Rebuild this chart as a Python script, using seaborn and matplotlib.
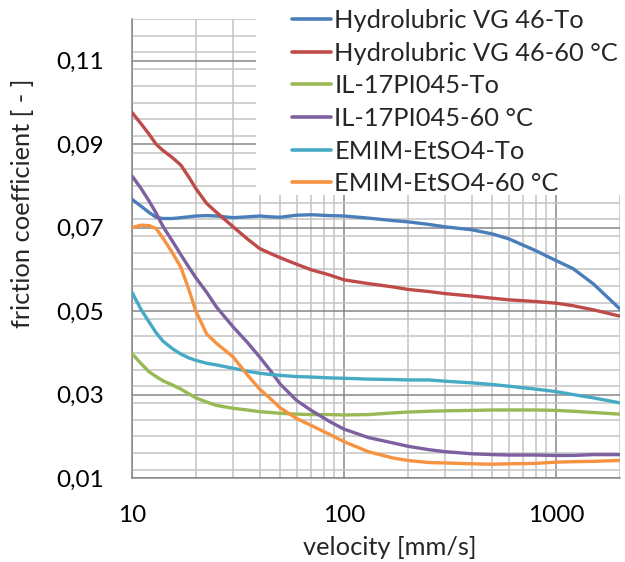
import numpy as np
import pandas as pd
import matplotlib
matplotlib.use("Agg")
import matplotlib.pyplot as plt
import matplotlib.ticker as mticker
from matplotlib.patches import Rectangle
import seaborn as sns

velocity = [10, 11, 12, 13, 14, 15.5, 17, 18.5, 20, 22.5, 25, 30, 35, 40, 45, 50, 60,
            70, 85, 100, 130, 170, 200, 250, 300, 400, 500, 600, 800, 1000, 1200,
            1500, 2000]

hydro_to = [0.0768, 0.0752, 0.0737, 0.0725, 0.0722, 0.0722, 0.0724, 0.0726, 0.0728,
            0.0729, 0.0728, 0.0724, 0.0726, 0.0728, 0.0726, 0.0725, 0.0730, 0.0731,
            0.0729, 0.0728, 0.0723, 0.0717, 0.0714, 0.0708, 0.0702, 0.0695, 0.0685,
            0.0673, 0.0645, 0.0621, 0.0602, 0.0565, 0.0505]
hydro_60 = [0.0976, 0.0950, 0.0925, 0.0900, 0.0885, 0.0868, 0.0850, 0.0822, 0.0794,
            0.0758, 0.0737, 0.0702, 0.0673, 0.0650, 0.0638, 0.0628, 0.0612, 0.0599,
            0.0587, 0.0575, 0.0566, 0.0558, 0.0552, 0.0547, 0.0542, 0.0536, 0.0531,
            0.0527, 0.0523, 0.0519, 0.0513, 0.0503, 0.0488]
il_to = [0.0398, 0.0375, 0.0355, 0.0343, 0.0333, 0.0323, 0.0313, 0.0302, 0.0292,
         0.0282, 0.0274, 0.0267, 0.0263, 0.0259, 0.0257, 0.0255, 0.0253, 0.0252,
         0.0252, 0.0251, 0.0252, 0.0256, 0.0258, 0.0260, 0.0261, 0.0262, 0.0263,
         0.0263, 0.0263, 0.0262, 0.0260, 0.0257, 0.0253]
il_60 = [0.0824, 0.0795, 0.0765, 0.0735, 0.0703, 0.0668, 0.0635, 0.0606, 0.0580,
         0.0545, 0.0510, 0.0462, 0.0425, 0.0390, 0.0357, 0.0325, 0.0285, 0.0262,
         0.0236, 0.0217, 0.0197, 0.0184, 0.0176, 0.0168, 0.0163, 0.0158, 0.0156,
         0.0155, 0.0155, 0.0154, 0.0154, 0.0156, 0.0156]
emim_to = [0.0545, 0.0505, 0.0475, 0.0448, 0.0428, 0.0410, 0.0397, 0.0388, 0.0382,
           0.0375, 0.0371, 0.0363, 0.0356, 0.0351, 0.0348, 0.0346, 0.0343, 0.0342,
           0.0340, 0.0339, 0.0337, 0.0336, 0.0335, 0.0335, 0.0332, 0.0328, 0.0324,
           0.0320, 0.0313, 0.0307, 0.0300, 0.0292, 0.0280]
emim_60 = [0.0700, 0.0706, 0.0705, 0.0698, 0.0675, 0.0640, 0.0605, 0.0553, 0.0500,
           0.0445, 0.0423, 0.0390, 0.0347, 0.0313, 0.0290, 0.0268, 0.0242, 0.0226,
           0.0205, 0.0187, 0.0163, 0.0148, 0.0142, 0.0137, 0.0136, 0.0134, 0.0133,
           0.0134, 0.0135, 0.0138, 0.0139, 0.0140, 0.0142]

series_names = ["Hydrolubric VG 46-To", "Hydrolubric VG 46-60 °C", "IL-17PI045-To",
                "IL-17PI045-60 °C", "EMIM-EtSO4-To", "EMIM-EtSO4-60 °C"]
series_values = [hydro_to, hydro_60, il_to, il_60, emim_to, emim_60]
colors = ["#4A7EBB", "#BE4B48", "#98B954", "#7D60A0", "#46AAC5", "#F69240"]

y_ticks = [0.01, 0.03, 0.05, 0.07, 0.09, 0.11]
x_ticks = [10, 100, 1000]

rows = []
for name, vals in zip(series_names, series_values):
    for v, f in zip(velocity, vals):
        rows.append({"velocity": v, "friction": f, "series": name})
df = pd.DataFrame(rows)

sns.set_style("white")
plt.rcParams["font.family"] = ["Lato", "DejaVu Sans"]

fig = plt.figure(figsize=(6.25, 5.62), dpi=100)
ax = fig.add_axes([0.2112, 0.1495, 0.992 - 0.2112, 0.966 - 0.1495])

sns.lineplot(data=df, x="velocity", y="friction", hue="series",
             hue_order=series_names, palette=colors, linewidth=2.4,
             estimator=None, sort=True, ax=ax, zorder=5)

ax.set_xscale("log")
ax.set_xlim(10, 2000)
ax.set_ylim(0.01, 0.12)

ax.xaxis.set_major_locator(mticker.FixedLocator(x_ticks))
ax.xaxis.set_major_formatter(mticker.FuncFormatter(lambda v, p: f"{int(round(v))}"))
ax.xaxis.set_minor_locator(mticker.LogLocator(base=10, subs=np.arange(2, 10)))
ax.xaxis.set_minor_formatter(mticker.NullFormatter())

ax.yaxis.set_major_locator(mticker.FixedLocator(y_ticks))
ax.yaxis.set_major_formatter(mticker.FuncFormatter(lambda v, p: f"{v:.2f}".replace(".", ",")))
ax.yaxis.set_minor_locator(mticker.MultipleLocator(0.004))

ax.grid(which="major", color="#878787", linewidth=1.1, zorder=1)
ax.grid(which="minor", color="#C3C3C3", linewidth=1.1, zorder=1)
ax.set_axisbelow(True)

for s in ["top", "right"]:
    ax.spines[s].set_visible(False)
for s in ["left", "bottom"]:
    ax.spines[s].set_color("#878787")
    ax.spines[s].set_linewidth(1.1)

ax.tick_params(axis="both", which="major", direction="out", length=6.5, width=1.1,
               color="#878787", labelsize=17.5, labelcolor="black")
ax.tick_params(axis="y", which="major", pad=14)
ax.tick_params(axis="x", which="major", pad=13)
ax.tick_params(axis="both", which="minor", length=0)

ax.set_xlabel("velocity [mm/s]", fontsize=18.3)
ax.set_ylabel("friction coefficient [ - ]", fontsize=18.3)
ax.xaxis.set_label_coords((390 - 132) / 488, (478 - 536) / 459)
ax.yaxis.set_label_coords((34 - 132) / 488, (478 - 203) / 459)

# white legend background covering the grid
x0 = (256 - 132) / 488
y0 = (478 - 195) / 459
ax.add_patch(Rectangle((x0, y0), 1.2, 1.0, transform=ax.transAxes,
                       facecolor="white", edgecolor="none", zorder=3, clip_on=False))

leg = ax.legend(loc="upper left", bbox_to_anchor=(292 / 625, 1 - 9 / 562),
                bbox_transform=fig.transFigure, frameon=False, fontsize=18.3,
                handlelength=1.55, handletextpad=0.12, labelspacing=0.38,
                borderpad=0.0, borderaxespad=0.0)
leg.set_zorder(6)
for line in leg.get_lines():
    line.set_linewidth(2.6)

fig.savefig("out.png", dpi=100)
